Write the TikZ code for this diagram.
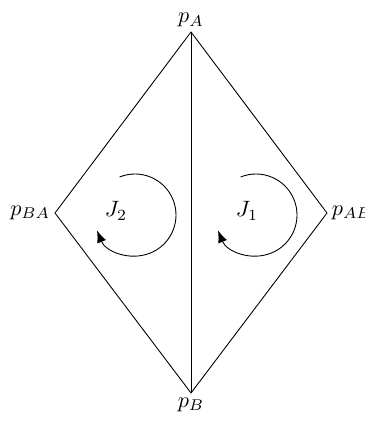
\documentclass[tikz,border=0pt]{standalone}
\usetikzlibrary{arrows.meta}
\begin{document}
\begin{tikzpicture}[x=0.45pt,y=-0.45pt,
  edge/.style={line width=0.4pt},
  turn/.style={line width=0.4pt,-{Latex[length=5.5pt,width=4.2pt]}},
  lbl/.style={inner sep=2pt}]
\useasboundingbox (0,0) rectangle (364,422);
\coordinate (pA) at (191,32);
\coordinate (pB) at (191,393);
\coordinate (pBA) at (55,213);
\coordinate (pAB) at (327,213);
\node[lbl,above] (lA) at (pA) {$p_A$};
\node[lbl,below] (lB) at (pB) {$p_B$};
\node[lbl,left] (lBA) at (pBA) {$p_{BA}$};
\node[lbl,right] (lAB) at (pAB) {$p_{AB}$};
\draw[edge] (pA) -- (pAB) -- (pB) -- (pBA) -- cycle;
\draw[edge] (pA) -- (pB);
\coordinate (c2) at (135,215);
\coordinate (c1) at (256,215);
\draw[turn] ([shift={(-112:41)}]c2) arc[start angle=-112,end angle=158,radius=41];
\draw[turn] ([shift={(-112:41)}]c1) arc[start angle=-112,end angle=158,radius=41];
\node (J2) at (116,211) {$J_2$};
\node (J1) at (247,211) {$J_1$};
\end{tikzpicture}
\end{document}
